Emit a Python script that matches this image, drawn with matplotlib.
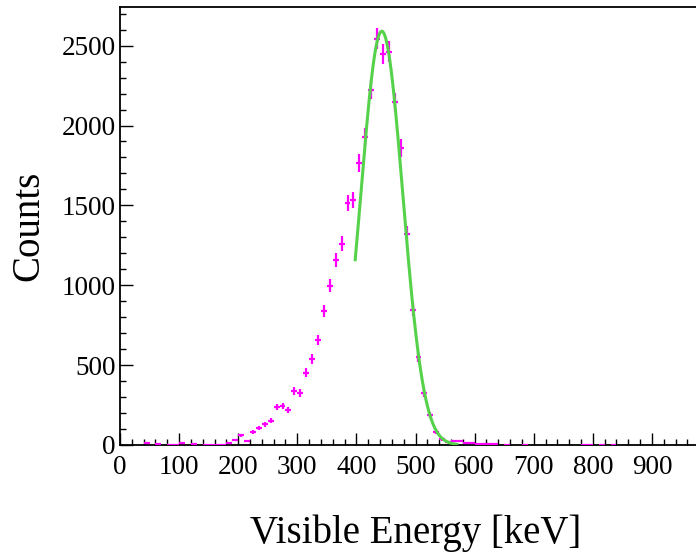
import numpy as np
import matplotlib
matplotlib.use("Agg")
import matplotlib.pyplot as plt
from matplotlib.ticker import MultipleLocator

# Bin centers [keV] (10 keV bins) of non-empty bins
energy = [45, 65, 85, 95, 105, 125, 145, 155, 165, 175, 185, 195, 205, 215, 225,
          235, 245, 255, 265, 275, 285, 295, 305, 315, 325, 335, 345, 355, 365,
          375, 385, 395, 405, 415, 425, 435, 445, 455, 465, 475, 485, 495, 505,
          515, 525, 535, 545, 555, 565, 575, 585, 595, 605, 615, 625, 635, 655,
          685, 785, 795, 815, 835]
counts = [10, 8, 3, 3, 12, 8, 2, 2, 3, 3, 12, 33, 60, 25, 80,
          108, 130, 152, 237, 244, 220, 340, 325, 452, 537, 656, 840, 998, 1156,
          1260, 1517, 1535, 1764, 1929, 2225, 2542, 2448, 2463, 2146, 1860, 1323, 848, 552,
          327, 187, 83, 36, 21, 25, 24, 14, 12, 8, 6, 4, 4, 3,
          3, 2, 2, 2, 2]
errors = [4, 4, 2, 2, 5, 4, 2, 2, 2, 2, 5, 7, 10, 7, 12,
          14, 15, 16, 20, 20, 19, 24, 23, 28, 30, 33, 38, 41, 44,
          46, 51, 51, 55, 57, 61, 66, 64, 65, 60, 56, 47, 38, 31,
          24, 18, 12, 8, 6, 7, 6, 5, 5, 4, 3, 3, 3, 2,
          2, 2, 2, 2, 2]
bin_half_width = 5

# Gaussian fit parameters
fit_amp = 2590
fit_mean = 443
fit_sigma = 35.5
fit_range = (398, 570)

x_ticks = [0, 100, 200, 300, 400, 500, 600, 700, 800, 900]
y_ticks = [0, 500, 1000, 1500, 2000, 2500]

plt.rcParams['font.family'] = ['Liberation Serif', 'DejaVu Serif']

fig = plt.figure(figsize=(6.96, 5.57), dpi=100)
W, H = 696, 557
x0, x1 = 120, 711
y0, y1 = 445, 6.5
ax = fig.add_axes([x0 / W, (H - y0) / H, (x1 - x0) / W, (y0 - y1) / H])

ax.errorbar(energy, counts, yerr=errors, xerr=bin_half_width, fmt='none',
            ecolor='#ff00ff', elinewidth=1.6, capsize=0, zorder=3)

xf = np.linspace(fit_range[0], fit_range[1], 400)
yf = fit_amp * np.exp(-0.5 * ((xf - fit_mean) / fit_sigma) ** 2)
ax.plot(xf, yf, color='#55d24a', lw=2.2, zorder=4)

ax.set_xlim(0, 1000)
ax.set_ylim(0, 2745)
ax.set_xticks(x_ticks)
ax.set_yticks(y_ticks)
ax.xaxis.set_minor_locator(MultipleLocator(20))
ax.yaxis.set_minor_locator(MultipleLocator(100))
ax.tick_params(which='both', direction='in', labelsize=19.5, width=1.0)
ax.tick_params(which='major', length=9)
ax.tick_params(which='minor', length=4.5)
ax.tick_params(axis='x', pad=7)
ax.tick_params(axis='y', pad=3)

for s in ['left', 'bottom', 'top']:
    ax.spines[s].set_linewidth(1.3)
ax.spines['right'].set_visible(False)

ax.set_xlabel('Visible Energy [keV]', fontsize=28, labelpad=25)
ax.set_ylabel('Counts', fontsize=28, labelpad=10)

fig.savefig('out.png', dpi=100)
